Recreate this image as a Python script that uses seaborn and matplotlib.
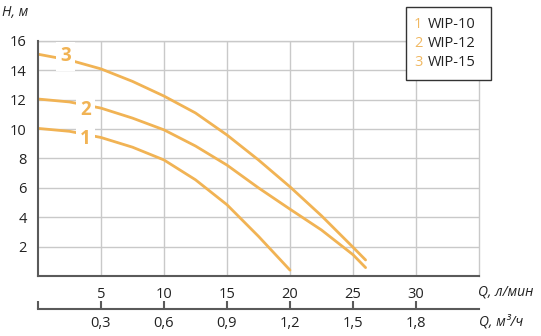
import matplotlib
matplotlib.use("Agg")
import matplotlib.pyplot as plt
from matplotlib.patches import Rectangle
import seaborn as sns
import pandas as pd

# Pump performance curves: head H (m) versus flow Q (l/min)
flow_long = [0, 2.5, 5, 7.5, 10, 12.5, 15, 17.5, 20, 22.5, 25, 26]
flow_short = [0, 2.5, 5, 7.5, 10, 12.5, 15, 17.5, 20]
head_wip10 = [10.05, 9.85, 9.43, 8.77, 7.9, 6.55, 4.85, 2.7, 0.4]
head_wip12 = [12.05, 11.85, 11.43, 10.75, 9.95, 8.85, 7.55, 6.0, 4.55, 3.13, 1.45, 0.57]
head_wip15 = [15.1, 14.7, 14.1, 13.25, 12.25, 11.1, 9.6, 7.9, 6.07, 4.1, 1.96, 1.09]
models = ["WIP-10", "WIP-12", "WIP-15"]
curve_numbers = ["1", "2", "3"]

x_ticks = [5, 10, 15, 20, 25, 30]
y_ticks = [2, 4, 6, 8, 10, 12, 14, 16]
m3h_ticks = [0, 0.3, 0.6, 0.9, 1.2, 1.5, 1.8]

# number label positions along each curve (flow, head)
label_pos = [(3.76, 9.32), (3.76, 11.3), (2.17, 14.95)]

df = pd.concat([
    pd.DataFrame({"Q": flow_short, "H": head_wip10, "model": models[0]}),
    pd.DataFrame({"Q": flow_long, "H": head_wip12, "model": models[1]}),
    pd.DataFrame({"Q": flow_long, "H": head_wip15, "model": models[2]}),
])

sns.set_theme(style="whitegrid")
plt.rcParams["font.family"] = ["Open Sans", "DejaVu Sans"]

curve_color = "#F1B354"
digit_color = "#F0B862"
grid_color = "#C9C9C9"
axis_color = "#5A5A5A"

fig = plt.figure(figsize=(5.41, 3.36), dpi=100)
ax = fig.add_axes([0.0702, 0.1786, 0.8152, 0.6994])

sns.lineplot(data=df, x="Q", y="H", hue="model",
             palette=[curve_color] * 3, linewidth=2.0, legend=False,
             ax=ax, sort=False)

ax.set_xlim(0, 35)
ax.set_ylim(0, 16)
ax.set_xticks(x_ticks)
ax.set_xticklabels([str(v) for v in x_ticks])
ax.set_yticks(y_ticks)
ax.set_yticklabels([str(v) for v in y_ticks])
ax.set_xlabel("")
ax.set_ylabel("")
ax.tick_params(axis="both", length=0, labelsize=10.5, colors="#222222")
ax.tick_params(axis="x", pad=8)
ax.tick_params(axis="y", pad=8)

ax.grid(True, color=grid_color, linewidth=1.0)
for side in ["top", "right"]:
    ax.spines[side].set_color(grid_color)
    ax.spines[side].set_linewidth(1.0)
for side in ["left", "bottom"]:
    ax.spines[side].set_color(axis_color)
    ax.spines[side].set_linewidth(1.5)
    ax.spines[side].set_zorder(5)

# curve numbers sitting on the lines, with a white gap around them
for num, (qx, hy) in zip(curve_numbers, label_pos):
    ax.text(qx, hy, num, color=curve_color, fontsize=13.5, fontweight="bold",
            ha="center", va="center", zorder=6,
            bbox=dict(boxstyle="square,pad=0.22", fc="white", ec="none"))

# secondary flow scale in m³/h
sec = ax.secondary_xaxis(-0.1404, functions=(lambda q: q * 0.06, lambda m: m / 0.06))
sec.set_xticks(m3h_ticks)
sec.set_xticklabels(["" if v == 0 else f"{v:.1f}".replace(".", ",") for v in m3h_ticks])
sec.tick_params(axis="x", direction="in", length=6, width=1.5, color=axis_color,
                labelsize=10.5, labelcolor="#222222", pad=5)
sec.spines["bottom"].set_color(axis_color)
sec.spines["bottom"].set_linewidth(1.5)

# axis titles
fig.text(0.004, 0.962, "H, м", fontsize=10, style="italic", color="#222222",
         ha="left", va="center")
fig.text(0.934, 0.131, "Q, л/мин", fontsize=10, style="italic", color="#222222",
         ha="center", va="center")
fig.text(0.926, 0.042, "Q, м³/ч", fontsize=10, style="italic", color="#222222",
         ha="center", va="center")

# legend box
fig.patches.append(Rectangle((406 / 541, 1 - 80 / 336), 85 / 541, 73 / 336,
                             transform=fig.transFigure, fc="white",
                             ec="#333333", lw=1.0, zorder=10))
for i, (num, name) in enumerate(zip(curve_numbers, models)):
    yy = 1 - (25 + 18.5 * i) / 336
    fig.text(414 / 541, yy, num, color=digit_color, fontsize=10.5,
             ha="left", va="center", zorder=11)
    fig.text(428 / 541, yy, name, color="#222222", fontsize=10.5,
             ha="left", va="center", zorder=11)

fig.savefig("out.png", dpi=100)
